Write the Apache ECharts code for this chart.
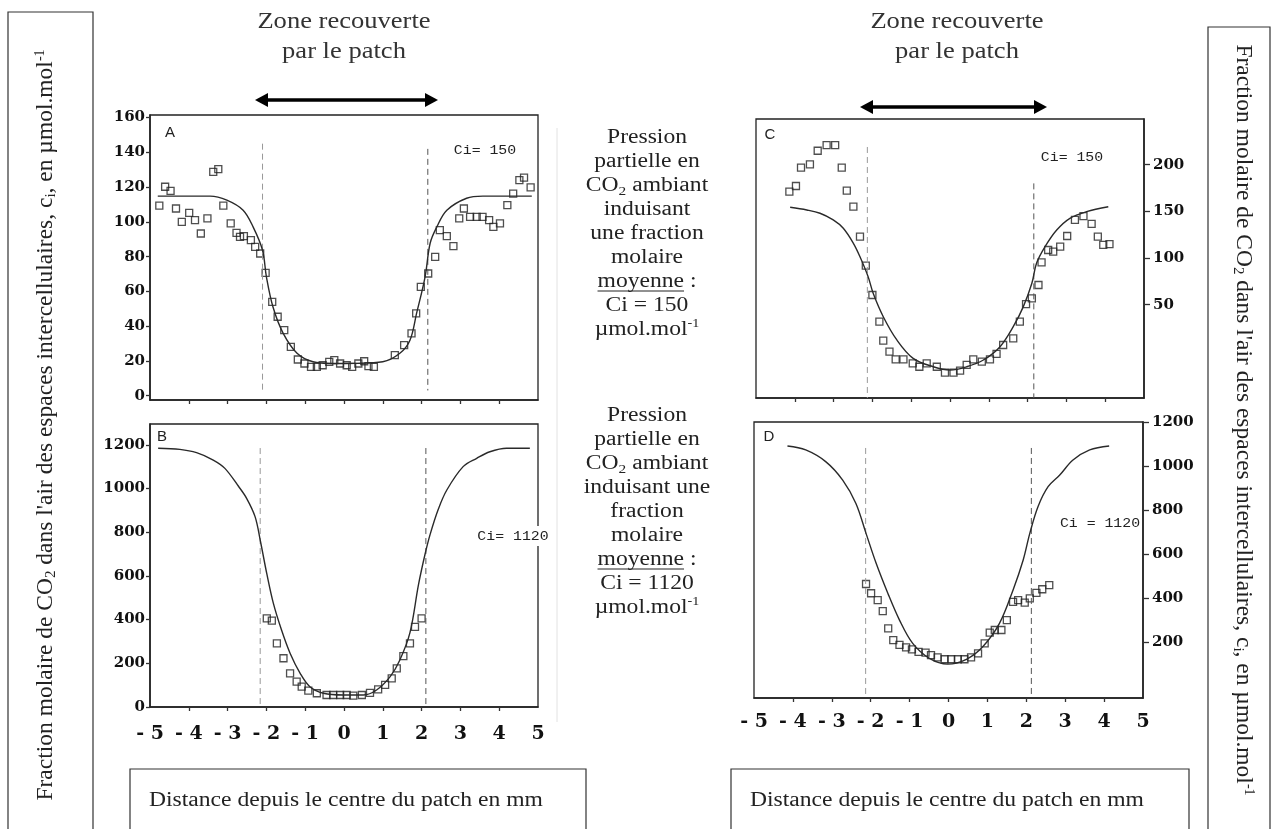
<!DOCTYPE html>
<html><head><meta charset="utf-8">
<script src="https://cdn.jsdelivr.net/npm/echarts@6/dist/echarts.min.js"></script>
<style>html,body{margin:0;padding:0;background:#fff}#c{width:1281px;height:829px}</style>
</head><body><div id="c"></div>
<script>
// ---------- tick labels ----------
const xTicks = [-4,-3,-2,-1,0,1,2,3,4];
const xLabelVals = [-5,-4,-3,-2,-1,0,1,2,3,4,5];
const xLabelText = ['- 5','- 4','- 3','- 2','- 1','0','1','2','3','4','5'];
const yTicksA = [0,20,40,60,80,100,120,140,160];
const yTicksB = [0,200,400,600,800,1000,1200];
const yTicksC = [50,100,150,200];
const yTicksD = [200,400,600,800,1000,1200];

// ---------- panel A (Ci = 150) ----------
const curveAx = [-4.8,-3.45,-3.02,-2.6,-2.34,-2.1,-2.0,-1.83,-1.57,-1.21,-0.8,-0.3,0.3,1.0,1.44,1.7,1.87,2.09,2.22,2.39,2.65,3.16,3.58,4.84];
const curveAy = [114.8,114.8,112.5,106.7,97,83.7,68.4,51,36,24.4,19.5,18.5,18.6,19.5,24.4,31.9,47.3,68.4,87.7,97,106.7,113.6,114.8,114.8];
const ptsAx = [-4.76,-4.61,-4.47,-4.33,-4.18,-3.99,-3.84,-3.69,-3.52,-3.37,-3.24,-3.11,-2.92,-2.77,-2.68,-2.58,-2.40,-2.29,-2.16,-2.02,-1.85,-1.71,-1.54,-1.37,-1.19,-1.02,-0.85,-0.70,-0.55,-0.38,-0.25,-0.10,0.07,0.21,0.37,0.52,0.63,0.77,1.31,1.55,1.74,1.86,1.98,2.17,2.35,2.47,2.65,2.82,2.97,3.09,3.25,3.42,3.57,3.74,3.85,4.02,4.21,4.36,4.52,4.64,4.81];
const ptsAy = [109.4,120.2,117.8,107.7,100,105.2,101,93.3,102,128.8,130.3,109.4,99.1,93.7,91.4,91.8,89.5,85.6,81.8,70.7,54,45.4,37.7,28.1,20.8,18.5,16.6,16.6,17.5,19.4,20.4,18.5,17.5,16.6,18.5,19.8,17,16.6,23.3,29.1,35.8,47.3,62.6,70.3,79.9,95.2,91.8,86,102,107.7,102.9,102.9,102.9,101,97.1,99.1,109.6,116.3,124,125.5,119.8];
const dashAx = [-2.1, 2.16];
const dashAtop = [145, 142];
const dashAbottom = [3, 3];

// ---------- panel B (Ci = 1120) ----------
const curveBx = [-4.79,-4.23,-3.80,-3.37,-3.07,-2.72,-2.51,-2.29,-2.15,-1.99,-1.82,-1.61,-1.39,-1.13,-0.88,-0.53,-0.02,0.50,0.84,1.19,1.44,1.70,1.92,2.09,2.22,2.43,2.65,3.07,3.42,3.76,4.19,4.79];
const curveBy = [1184,1179,1164,1130,1092,1010,955,870,755,610,474,352,246,154,93,63,55,55,78,139,215,340,560,700,790,905,993,1100,1138,1168,1184,1184];
const ptsBx = [-1.99,-1.86,-1.73,-1.56,-1.39,-1.22,-1.09,-0.92,-0.70,-0.45,-0.28,-0.10,0.07,0.24,0.46,0.67,0.88,1.06,1.23,1.36,1.53,1.70,1.83,2.0];
const ptsBy = [406,395,291,223,154,116,93,75,63,55,55,55,55,52,55,65,81,101,131,177,233,291,367,406];
const dashBx = [-2.16, 2.11];
const dashBtop = [1185, 1185];
const dashBbottom = [0, 0];

// ---------- panel C (Ci = 150) ----------
const curveCx = [-4.12,-3.69,-3.35,-3.01,-2.75,-2.49,-2.32,-2.11,-1.98,-1.72,-1.37,-0.95,-0.43,0,0.43,0.86,1.29,1.63,1.89,2.11,2.23,2.45,2.75,3.09,3.52,4.08];
const curveCy = [154.4,151.5,148,140.8,131.9,115.8,101.4,80,62.2,37.1,12.2,-7.5,-16.5,-20,-16.5,-9.3,5,26.4,47.9,72.9,94.4,112.2,130,142.6,149.7,155];
const ptsCx = [-4.14,-3.97,-3.84,-3.61,-3.41,-3.18,-2.96,-2.79,-2.66,-2.49,-2.32,-2.17,-2.0,-1.82,-1.72,-1.56,-1.40,-1.20,-0.96,-0.79,-0.60,-0.34,-0.13,0.09,0.26,0.43,0.60,0.82,1.03,1.20,1.37,1.63,1.80,1.96,2.11,2.28,2.36,2.53,2.66,2.84,3.02,3.22,3.44,3.65,3.81,3.95,4.11];
const ptsCy = [171.1,177.2,196.8,200.4,215,221.1,221.1,196.8,172.2,155,122.9,91.8,60.4,31.8,11.4,-0.4,-8.6,-8.6,-12.8,-16.5,-12.8,-16.5,-22.9,-22.9,-20.7,-14.6,-8.6,-11.1,-8.6,-2.8,6.8,14,31.8,50.7,56.8,71.1,95.4,108.6,106.8,112.2,123.6,140.8,145,136.5,122.9,114,115];
const dashCx = [-2.13, 2.16];
const dashCtop = [219, 180];
const dashCbottom = [-50, -50];

// ---------- panel D (Ci = 1120) ----------
const curveDx = [-4.14,-3.67,-3.15,-2.72,-2.38,-2.12,-1.86,-1.56,-1.26,-0.92,-0.49,-0.02,0.46,0.88,1.31,1.66,1.92,2.09,2.30,2.56,2.86,3.20,3.63,4.13];
const curveDy = [1091,1073,1019,936,830,694,558,422,300,194,126,100,122,179,285,437,573,694,815,906,959,1027,1073,1091];
const ptsDx = [-2.12,-1.99,-1.82,-1.69,-1.55,-1.42,-1.26,-1.09,-0.94,-0.77,-0.59,-0.45,-0.28,-0.10,0.07,0.24,0.41,0.58,0.76,0.93,1.06,1.19,1.36,1.50,1.66,1.79,1.96,2.09,2.26,2.41,2.59];
const ptsDy = [464,422,391,341,262,209,187,176,167,156,152,141,131,122,122,122,122,131,149,194,243,255,255,300,383,391,379,399,424,440,459];
const dashDx = [-2.13, 2.13];
const dashDtop = [1082, 1082];
const dashDbottom = [-54, -54];

// ---------- texts ----------
const zoneText = 'Zone recouverte\npar le patch';
const panelLetters = ['A','B','C','D'];
const ciLabels = ['Ci= 150','Ci= 1120','Ci= 150','Ci = 1120'];
const xTitle = 'Distance depuis le centre du patch en mm';

const serif = 'Liberation Serif';
const zip = (xs, ys) => xs.map((x, i) => [x, ys[i]]);

const panels = [
  {grid:{left:150, top:115, width:388, height:285}, ymin:-2.5, ymax:161.5, yTicks:yTicksA, yPos:'left', xLab:false, cx:curveAx, cy:curveAy, px:ptsAx, py:ptsAy, dx:dashAx, dt:dashAtop, db:dashAbottom, xMargin:20},
  {grid:{left:150, top:424, width:388, height:283}, ymin:0, ymax:1295, yTicks:yTicksB, yPos:'left', xLab:true, cx:curveBx, cy:curveBy, px:ptsBx, py:ptsBy, dx:dashBx, dt:dashBtop, db:dashBbottom, xMargin:18},
  {grid:{left:756, top:119, width:388, height:279}, ymin:-50, ymax:249, yTicks:yTicksC, yPos:'right', xLab:false, cx:curveCx, cy:curveCy, px:ptsCx, py:ptsCy, dx:dashCx, dt:dashCtop, db:dashCbottom, xMargin:20},
  {grid:{left:754, top:422, width:389, height:276}, ymin:-54, ymax:1200, yTicks:yTicksD, yPos:'right', xLab:true, cx:curveDx, cy:curveDy, px:ptsDx, py:ptsDy, dx:dashDx, dt:dashDtop, db:dashDbottom, xMargin:15}
];

const tickFont = {fontFamily:'DejaVu Serif', fontWeight:'bold', fontSize:15, color:'#111'};
const grids = [], xAxes = [], yAxes = [], series = [];
panels.forEach((p, i) => {
  grids.push(Object.assign({show:true, borderColor:'#222', borderWidth:1.3, backgroundColor:'#fff'}, p.grid));
  xAxes.push({
    type:'value', gridIndex:i, min:-5, max:5,
    axisLine:{show:true, onZero:false, lineStyle:{color:'#222', width:1.6}},
    axisTick:{show:true, customValues:xTicks, length:4, lineStyle:{color:'#333', width:1.3}},
    axisLabel:{show:p.xLab, customValues:xLabelVals, margin:p.xMargin,
      formatter:v => xLabelText[xLabelVals.indexOf(v)],
      fontFamily:'DejaVu Serif', fontWeight:'bold', fontSize:19, color:'#111'},
    splitLine:{show:false}
  });
  yAxes.push({
    type:'value', gridIndex:i, min:p.ymin, max:p.ymax, position:p.yPos,
    axisLine:{show:true, onZero:false, lineStyle:{color:'#222', width:1.6}},
    axisTick:{show:true, customValues:p.yTicks, length:p.yPos==='right'?6:4, lineStyle:{color:'#333', width:1.3}},
    axisLabel:Object.assign({customValues:p.yTicks, margin:p.yPos==='right'?9:5, formatter:v => String(v)}, tickFont),
    splitLine:{show:false}
  });
  p.dx.forEach((x, k) => {
    series.push({type:'line', xAxisIndex:i, yAxisIndex:i, data:[[x, p.dt[k]], [x, p.db[k]]],
      symbol:'none', silent:true, lineStyle:{color:k===0?'#999':'#555', width:1, type:[6,4]}});
  });
  series.push({type:'line', xAxisIndex:i, yAxisIndex:i, data:zip(p.cx, p.cy), smooth:0.35,
    symbol:'none', silent:true, lineStyle:{color:'#2a2a2a', width:1.4}});
  series.push({type:'scatter', xAxisIndex:i, yAxisIndex:i, data:zip(p.px, p.py), symbol:'rect', symbolSize:7,
    silent:true, itemStyle:{color:'rgba(255,255,255,0)', borderColor:'#222', borderWidth:1.3}});
});

// text measurement for the underline
const mctx = document.createElement('canvas').getContext('2d');
function tw(str, size){ mctx.font = size + 'px "' + serif + '"'; return mctx.measureText(str).width; }

const SX = 1.18;
const richBody = {
  t:{fontSize:20, fontFamily:serif, lineHeight:24, fill:'#222'},
  s:{fontSize:13, fontFamily:serif, lineHeight:24, verticalAlign:'bottom', fill:'#222'},
  p:{fontSize:12, fontFamily:serif, lineHeight:24, verticalAlign:'top', fill:'#222'}
};
function midBlock(ci){
  return '{t|Pression}\n{t|partielle en}\n{t|CO}{s|2}{t| ambiant}\n' + ci.induce + '\n{t|moyenne :}\n{t|Ci = ' + ci.v + '}\n{t|µmol.mol}{p|-1}';
}
const midX = 647;
const mid1Top = 126, mid2Top = 404;
const mid1 = midBlock({induce:'{t|induisant}\n{t|une fraction}\n{t|molaire}', v:'150'});
const mid2 = midBlock({induce:'{t|induisant une}\n{t|fraction}\n{t|molaire}', v:'1120'});
const wMoy = tw('moyenne :', 20) * SX, wM = tw('moyenne', 20) * SX;

function underline(top){
  const y = top + 6*24 + 21;
  const x0 = midX - wMoy/2;
  return {type:'line', shape:{x1:x0, y1:y, x2:x0 + wM, y2:y}, style:{stroke:'#222', lineWidth:1}};
}
function arrow(x1, x2, y){
  return {type:'group', children:[
    {type:'line', shape:{x1:x1+8, y1:y, x2:x2-8, y2:y}, style:{stroke:'#000', lineWidth:3.5}},
    {type:'polygon', shape:{points:[[x1,y],[x1+13,y-7],[x1+13,y+7]]}, style:{fill:'#000'}},
    {type:'polygon', shape:{points:[[x2,y],[x2-13,y-7],[x2-13,y+7]]}, style:{fill:'#000'}}
  ]};
}
const vtitle = '{t|Fraction molaire de CO}{s|2}{t| dans l\'air des espaces intercellulaires, c}{s|i}{t|, en µmol.mol}{p|-1}';
const richV = {
  t:{fontSize:23.5, fontFamily:serif, lineHeight:26, fill:'#222'},
  s:{fontSize:15, fontFamily:serif, lineHeight:26, verticalAlign:'bottom', fill:'#222'},
  p:{fontSize:14, fontFamily:serif, lineHeight:26, verticalAlign:'top', fill:'#222'}
};
const annot = (txt, x, y, extra) => ({type:'text', x:x, y:y, z:100, scaleX:1.1, style:Object.assign({text:txt, fontFamily:'Liberation Mono', fontSize:13.5, fill:'#222', align:'center', verticalAlign:'middle'}, extra||{})});
const letter = (txt, x, y) => ({type:'text', x:x, y:y, z:100, style:{text:txt, fontFamily:'Liberation Sans', fontSize:15, fill:'#222', align:'center', verticalAlign:'middle'}});

const graphic = [
  // zone titles + arrows
  {type:'text', x:344, y:7, scaleX:SX, style:{text:zoneText, fontFamily:serif, fontSize:22.5, lineHeight:30, fill:'#333', align:'center', verticalAlign:'top'}},
  {type:'text', x:957, y:7, scaleX:SX, style:{text:zoneText, fontFamily:serif, fontSize:22.5, lineHeight:30, fill:'#333', align:'center', verticalAlign:'top'}},
  arrow(255, 438, 100),
  arrow(860, 1047, 107),
  // middle texts
  {type:'text', x:midX, y:mid1Top, scaleX:SX, style:{text:mid1, rich:richBody, align:'center', verticalAlign:'top'}},
  {type:'text', x:midX, y:mid2Top, scaleX:SX, style:{text:mid2, rich:richBody, align:'center', verticalAlign:'top'}},
  underline(mid1Top), underline(mid2Top),
  // faint separator
  {type:'line', shape:{x1:557, y1:128, x2:557, y2:722}, style:{stroke:'#e2e2e2', lineWidth:1}},
  // side title boxes
  {type:'rect', shape:{x:8, y:12, width:85, height:830}, style:{fill:'none', stroke:'#333', lineWidth:1.2}},
  {type:'text', x:46, y:425, rotation:Math.PI/2, style:{text:vtitle, rich:richV, align:'center', verticalAlign:'middle'}},
  {type:'rect', shape:{x:1208, y:27, width:62, height:815}, style:{fill:'none', stroke:'#333', lineWidth:1.2}},
  {type:'text', x:1243, y:420, rotation:-Math.PI/2, style:{text:vtitle, rich:richV, align:'center', verticalAlign:'middle'}},
  // x titles
  {type:'rect', shape:{x:130, y:769, width:456, height:80}, style:{fill:'none', stroke:'#333', lineWidth:1.2}},
  {type:'text', x:149, y:801, scaleX:SX, style:{text:xTitle, fontFamily:serif, fontSize:20, fill:'#222', align:'left', verticalAlign:'middle'}},
  {type:'rect', shape:{x:731, y:769, width:458, height:80}, style:{fill:'none', stroke:'#333', lineWidth:1.2}},
  {type:'text', x:750, y:801, scaleX:SX, style:{text:xTitle, fontFamily:serif, fontSize:20, fill:'#222', align:'left', verticalAlign:'middle'}},
  // in-panel annotations
  letter(panelLetters[0], 170, 133), letter(panelLetters[1], 162, 437),
  letter(panelLetters[2], 770, 135), letter(panelLetters[3], 769, 437),
  annot(ciLabels[0], 485, 150),
  annot(ciLabels[1], 513, 536, {backgroundColor:'#fff', padding:[3,1]}),
  annot(ciLabels[2], 1072, 157),
  annot(ciLabels[3], 1100, 523, {backgroundColor:'#fff', padding:[3,1]})
];

const chart = echarts.init(document.getElementById('c'));
chart.setOption({
  animation:false,
  backgroundColor:'#fff',
  grid:grids, xAxis:xAxes, yAxis:yAxes, series:series, graphic:graphic
});
</script></body></html>
